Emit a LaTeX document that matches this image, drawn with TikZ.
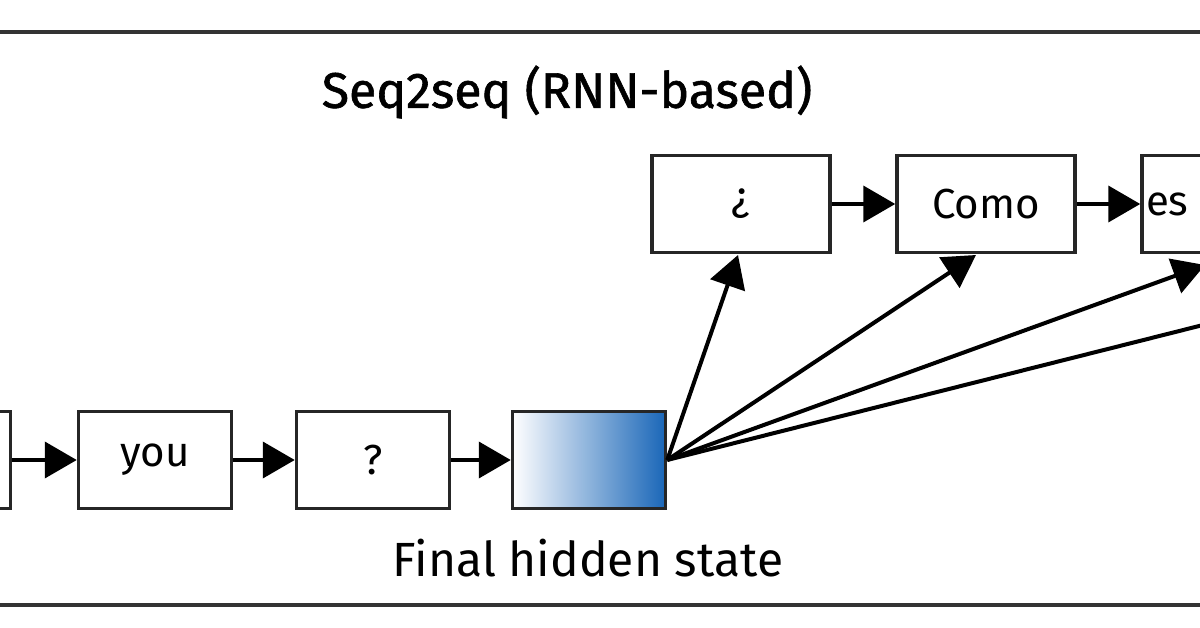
\documentclass[tikz,border=0pt]{standalone}
\usepackage{fontspec}
\setmainfont{Fira Sans}
\usetikzlibrary{arrows.meta}
\definecolor{hs}{HTML}{1A66B8}
\begin{document}
\begin{tikzpicture}[x=1pt,y=1pt,
  box/.style={draw=black!85,line width=3.5pt,minimum width=153pt,minimum height=97pt,inner sep=0pt,font=\fontsize{42}{46}\selectfont},
  arr/.style={line width=4pt,-{Triangle[length=32pt,width=36pt]}}]
\useasboundingbox (0,0) rectangle (1200,-628);
\clip (0,0) rectangle (1200,-628);
\draw[line width=3.5pt,black!80] (-10,-32) -- (1210,-32);
\draw[line width=3.5pt,black!80] (-10,-605) -- (1210,-605);
\node[font=\fontsize{50}{54}\selectfont\addfontfeature{FakeBold=1.2}] (title) at (567,-92) {Seq2seq (RNN-based)};
\node[box] (b0) at (-66,-460) {};
\node[box] (you) at (155,-460) {you};
\node[box] (q) at (373,-460) {?};
\node[box,left color=white,right color=hs] (h) at (589,-460) {};
\node[font=\fontsize{48}{52}\selectfont] (fl) at (588,-558) {Final hidden state};
\node[box,minimum width=178pt] (inv) at (741,-204) {¿};
\node[box,minimum width=178pt] (como) at (986,-204) {Como};
\node[box,minimum width=178pt,text width=170pt,align=left] (es) at (1231,-204) {es};
\coordinate (off) at (1215,-322);
\draw[arr] (b0) -- (you);
\draw[arr] (you) -- (q);
\draw[arr] (q) -- (h);
\draw[arr] (inv) -- (como);
\draw[arr] (como) -- (es);
\draw[arr] (h.east) -- (738,-255);
\draw[arr] (h.east) -- (976,-255);
\draw[arr] (h.east) -- (1205,-265);
\draw[line width=4pt] (h.east) -- (off);
\end{tikzpicture}
\end{document}
